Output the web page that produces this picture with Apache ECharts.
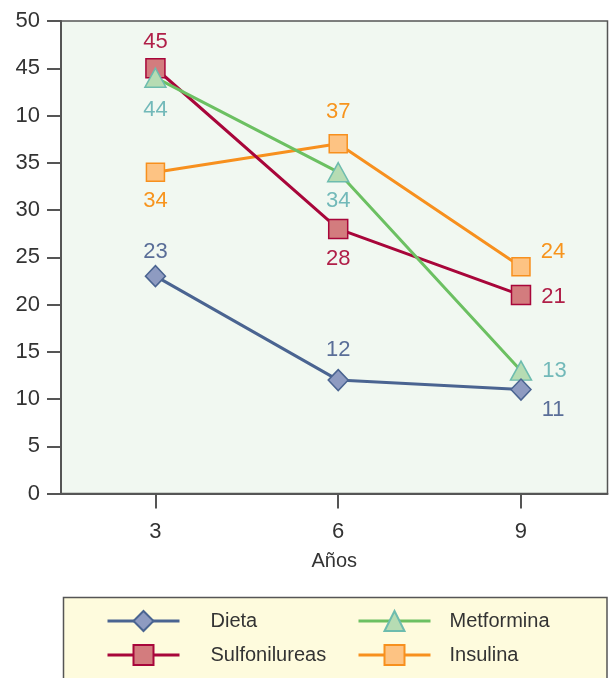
<!DOCTYPE html>
<html>
<head>
<meta charset="utf-8">
<script src="https://cdn.jsdelivr.net/npm/echarts@6/dist/echarts.min.js"></script>
<style>
  html, body { margin: 0; padding: 0; background: #ffffff; }
  #chart { width: 610px; height: 678px; }
</style>
</head>
<body>
<div id="chart"></div>
<script>
// Años de seguimiento
const years = [3, 6, 9];
// Porcentaje por tratamiento
const dieta = [23, 12, 11];
const sulfonilureas = [45, 28, 21];
const metformina = [44, 34, 13];
const insulina = [34, 37, 24];
// Etiquetas del eje vertical (tal como aparecen impresas)
const yTickLabels = ['0', '5', '10', '15', '20', '25', '30', '35', '10', '45', '50'];

const FONT = 'Liberation Sans, Arial, sans-serif';

// Posición de la etiqueta de cada punto: [posición, desplazamiento]
const dietaLbl = [['top', [0, 6]], ['top', [0, 0]], ['right', [2, 20]]];
const sulfLbl = [['top', [0, 3]], ['bottom', [0, 1]], ['right', [2, 2]]];
const metfLbl = [['bottom', [0, 3]], ['bottom', [0, 0]], ['right', [2, 0]]];
const insuLbl = [['bottom', [0, 0]], ['top', [0, -3]], ['right', [2, -15]]];

function points(values, lbls, color) {
  return values.map((v, i) => ({
    value: [years[i], v],
    label: {
      show: true,
      position: lbls[i][0],
      offset: lbls[i][1],
      distance: 8,
      color: color,
      fontSize: 22,
      fontFamily: FONT,
      formatter: String(v)
    }
  }));
}

function lineSeries(name, values, lbls, opts) {
  return {
    name: name,
    type: 'line',
    z: opts.z,
    data: points(values, lbls, opts.labelColor),
    symbol: opts.symbol,
    symbolSize: opts.symbolSize,
    lineStyle: { color: opts.line, width: 3 },
    itemStyle: { color: opts.fill, borderColor: opts.border, borderWidth: 1.5 },
    emphasis: { disabled: true },
    animation: false
  };
}

const legendBase = {
  orient: 'vertical',
  top: 610,
  padding: 0,
  itemWidth: 72,
  itemHeight: 25,
  itemGap: 12,
  lineStyle: { width: 3 },
  selectedMode: false
};

const chart = echarts.init(document.getElementById('chart'));
chart.setOption({
  animation: false,
  grid: {
    left: 61, top: 21, right: 2.5, bottom: 184.5,
    show: true,
    backgroundColor: '#f1f8f1',
    borderColor: '#555555',
    borderWidth: 1.5
  },
  xAxis: {
    type: 'value',
    min: 1.45,
    max: 10.42,
    name: 'Años',
    nameLocation: 'middle',
    nameGap: 58,
    nameTextStyle: { fontSize: 20, color: '#333333', fontFamily: FONT },
    axisLine: { show: true, lineStyle: { color: '#555555', width: 2 } },
    axisTick: { show: true, customValues: years, length: 15, lineStyle: { color: '#555555', width: 2 } },
    axisLabel: { customValues: years, margin: 27, fontSize: 22, color: '#333333', fontFamily: FONT },
    splitLine: { show: false }
  },
  yAxis: {
    type: 'value',
    min: 0,
    max: 50,
    interval: 5,
    axisLine: { show: true, lineStyle: { color: '#555555', width: 2 } },
    axisTick: { show: true, length: 14, lineStyle: { color: '#555555', width: 2 } },
    axisLabel: {
      margin: 21, fontSize: 22, color: '#333333', fontFamily: FONT,
      formatter: (v) => yTickLabels[Math.round(v / 5)]
    },
    splitLine: { show: false }
  },
  graphic: [{
    type: 'rect',
    z: -1,
    shape: { x: 63.5, y: 597.5, width: 543.5, height: 100 },
    style: { fill: '#fefbdd', stroke: '#555555', lineWidth: 1.5 }
  }],
  legend: [Object.assign({}, legendBase, {
    data: ['Dieta', 'Sulfonilureas'],
    left: 106,
    textStyle: { fontSize: 20, color: '#333333', fontFamily: FONT, padding: [0, 0, 0, 26] }
  }), Object.assign({}, legendBase, {
    data: ['Metformina', 'Insulina'],
    left: 357,
    textStyle: { fontSize: 20, color: '#333333', fontFamily: FONT, padding: [0, 0, 0, 14] }
  })],
  series: [
    lineSeries('Insulina', insulina, insuLbl, {
      z: 2, symbol: 'rect', symbolSize: 18, line: '#f7901e', fill: '#fdc383', border: '#f7901e', labelColor: '#f7941d'
    }),
    lineSeries('Sulfonilureas', sulfonilureas, sulfLbl, {
      z: 3, symbol: 'rect', symbolSize: 19, line: '#a8063a', fill: '#d37c7e', border: '#a8063a', labelColor: '#b01f48'
    }),
    lineSeries('Metformina', metformina, metfLbl, {
      z: 4, symbol: 'triangle', symbolSize: [21, 19], line: '#6cc062', fill: '#b6dcb3', border: '#6dbcae', labelColor: '#72b9b9'
    }),
    lineSeries('Dieta', dieta, dietaLbl, {
      z: 5, symbol: 'diamond', symbolSize: [20, 21], line: '#4a6491', fill: '#8e9bc1', border: '#4a6491', labelColor: '#5a6e98'
    })
  ]
});
</script>
</body>
</html>
